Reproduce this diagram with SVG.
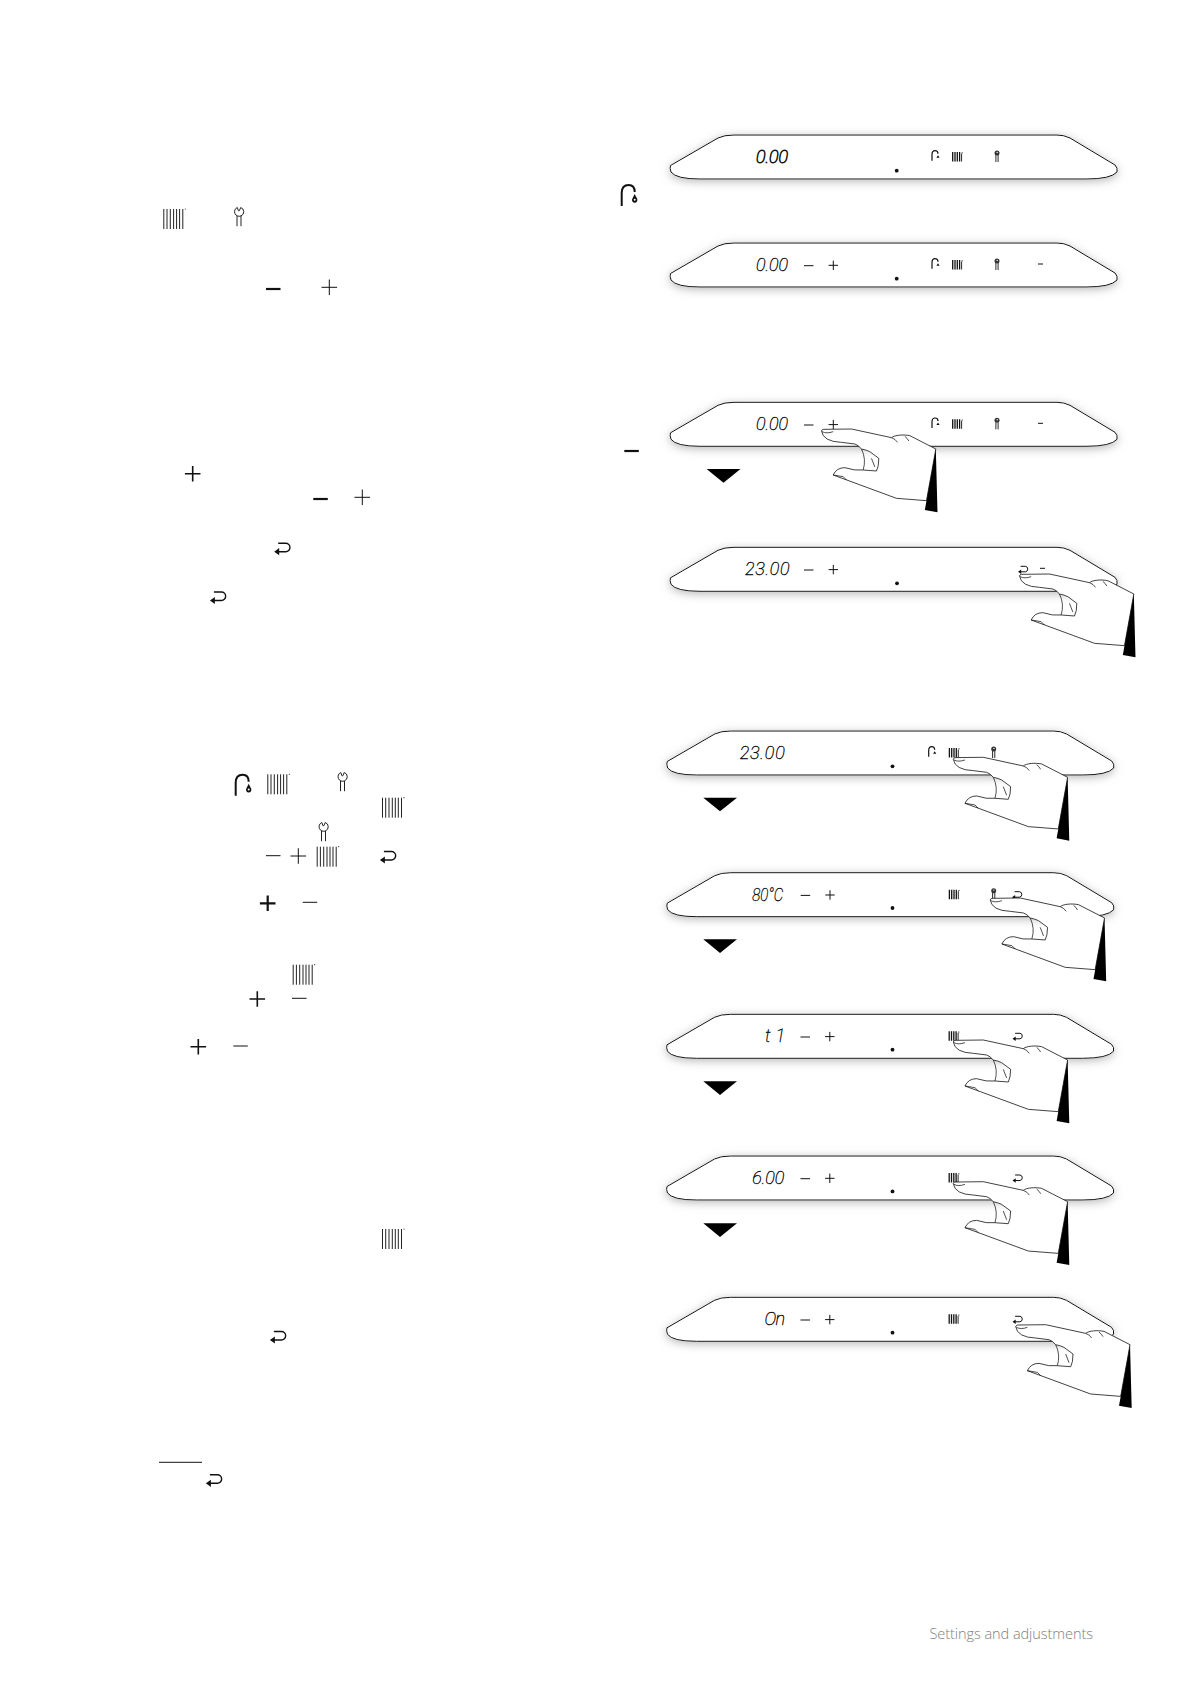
<svg xmlns="http://www.w3.org/2000/svg" width="1191" height="1684" viewBox="0 0 1191 1684">
<style>
.ln{fill:none;stroke:#111;stroke-linecap:butt}
.t1{stroke-width:1}
.t15{stroke-width:1.6}
.t2{stroke-width:2.2}
.seg{font-family:"Roboto","Liberation Sans",sans-serif;font-weight:100;font-style:italic;font-size:18px;fill:#111;stroke:#111;stroke-width:.4}
.foot{font-family:"Open Sans","Liberation Sans",sans-serif;font-weight:300;font-size:14.5px;fill:#808080}
.tri{fill:#000}
</style>
<defs>
<filter id="sh" x="-6%" y="-60%" width="112%" height="220%"><feDropShadow dx="0" dy="2" stdDeviation="5" flood-color="#999" flood-opacity=".7"/></filter>
<path id="body" d="M0.5,30.5 L48,3 Q54,0 64,0 L387,0 Q394,0 400,3 L445,30 Q448,33 447,37 Q441,44 416,44 L30,44 Q6,44 1,37 Q-.5,33 .5,30.5 Z" fill="#fff" stroke="#111" stroke-width="1"/>
<g id="rad"><path d="M.5,0V20M3.7,0V20M7,0V20M10.3,0V20M13.3,0V20M16.3,0V20M19.5,0V20" fill="none" stroke="#222" stroke-width="1"/><circle cx="22" cy="0" r=".6" fill="#333"/></g>
<g id="wrench"><path d="M-1.7,-4.2 A4.5,4.5 0 1 0 2,4.2 L2,14.5 M-2,4.2 L-2,14.5 M1.7,-4.2 L.4,-1 A1.8,1.8 0 0 1 -.6,-1 L-1.7,-4.2 M1.7,-4.2 A4.5,4.5 0 0 1 2,4.2" fill="none" stroke="#222" stroke-width="1"/></g>
<g id="tap"><path d="M0,0 V-13 Q0,-21 7,-21 Q13,-21 13,-14" fill="none" stroke="#111" stroke-width="2"/><path d="M13,-12 L15.4,-7.2 A2.7,2.7 0 1 1 10.6,-7.2 Z" fill="#111"/><circle cx="13" cy="-6.2" r="1" fill="#fff"/></g>
<g id="ret"><path d="M3.2,-8.5 H10.7 A4.2,4.2 0 0 1 10.7,0 H2.2" fill="none" stroke="#111" stroke-width="1.4"/><path d="M-.8,0 L4.2,-3.6 V3.6 Z" fill="#111"/></g>
<g id="sret"><path d="M2.6,-5.5 H7.5 A2.8,2.8 0 0 1 7.5,0 H2" fill="none" stroke="#111" stroke-width="1"/><path d="M0,0 L3.2,-2.3 V2.3 Z" fill="#111"/></g>
<g id="srad"><path d="M.7,0V9.5M3,0V9.5M5.3,0V9.5M7.6,0V9.5" fill="none" stroke="#111" stroke-width="1.3"/><path d="M9.6,1.5V9.5" fill="none" stroke="#111" stroke-width=".9"/><path d="M9.6,.8H11" fill="none" stroke="#111" stroke-width=".7"/></g>
<g id="swr"><path d="M-1.1,2 V9 M1.1,2 V9" fill="none" stroke="#111" stroke-width=".9"/><circle cx="0" cy="0" r="2.5" fill="#333"/><circle cx=".2" cy="-.6" r=".7" fill="#fff"/></g>
<g id="stap"><path d="M0,0 V-6 Q0,-10 3,-10 Q6,-10 6,-7" fill="none" stroke="#111" stroke-width="1.2"/><path d="M6,-5.5 L7.6,-3 L4.4,-3 Z" fill="#111"/></g>
<path id="sminus" d="M0,0H9.5" class="ln t1"/>
<path id="splus" d="M-4.7,0H4.7M0,-4.7V4.7" class="ln t1"/>
<path id="minusT" d="M0,0H14.5" class="ln t1"/>
<path id="minusB" d="M0,0H14.5" class="ln t2"/>
<path id="plusT" d="M-7.8,0H7.8M0,-7.8V7.8" class="ln t1"/>
<path id="plusM" d="M-7.8,0H7.8M0,-7.8V7.8" class="ln t15"/>
<path id="plusB" d="M-7.8,0H7.8M0,-7.8V7.8" class="ln t2"/>
<circle id="dot" r="1.9" fill="#111"/>
<g id="hand" transform="scale(.3333)">
<path d="M5,-5 L90,-6 L210,20 C220,12 245,10 265,14 L343,54 L315,209 L225,202 L35,132 Q45,110 70,110 Q100,120 125,117 L165,120 Q172,107 172,82 L145,62 Q135,57 120,54 Q110,42 100,39 L60,34 Q5,32 0,0 Q0,-3 5,-5 Z" fill="#fff" stroke="#111" stroke-width="2.4" stroke-linejoin="round"/>
<path d="M210,20 Q222,24 228,34 M250,16 Q258,22 262,30 M2,2 Q15,9 35,2 M120,54 Q135,85 125,117 M150,82 L160,108 M35,132 L65,137 L75,147" fill="none" stroke="#111" stroke-width="2.2"/>
<path d="M343,54 L310,237 L348,244 Z" fill="#000"/>
</g>
</defs>
<rect width="1191" height="1684" fill="#fff"/>

<g id="text-icons">
<use href="#rad" x="163.3" y="209"/>
<use href="#wrench" x="239" y="211.7"/>
<use href="#minusB" x="266" y="289"/>
<use href="#plusT" x="329.3" y="287.3"/>
<use href="#tap" x="621.7" y="206"/>
<use href="#minusB" x="624.3" y="451"/>
<use href="#plusM" x="192.7" y="473.7"/>
<use href="#minusB" x="313.3" y="499"/>
<use href="#plusT" x="362.3" y="497.3"/>
<use href="#ret" x="275" y="551.7"/>
<use href="#ret" x="210.7" y="600.5"/>
<use href="#tap" x="235.7" y="795.7"/>
<use href="#rad" x="267.3" y="774.3"/>
<use href="#wrench" x="342.5" y="776.7"/>
<use href="#rad" x="382" y="797.7"/>
<use href="#wrench" x="323.5" y="826.7"/>
<use href="#minusT" x="266" y="855.7"/>
<use href="#plusT" x="298.3" y="856"/>
<use href="#rad" x="316.7" y="846.7"/>
<use href="#ret" x="380.7" y="860"/>
<use href="#plusB" x="267.7" y="903.3"/>
<use href="#minusT" x="302.7" y="902.3"/>
<use href="#rad" x="292.7" y="964.7"/>
<use href="#plusM" x="257.3" y="999"/>
<use href="#minusT" x="292" y="998.3"/>
<use href="#plusM" x="198.3" y="1046.7"/>
<use href="#minusT" x="233.3" y="1046"/>
<use href="#rad" x="382" y="1229"/>
<use href="#ret" x="270.7" y="1340"/>
<path d="M159,1462.3H202" class="ln t1"/>
<use href="#ret" x="206.7" y="1483.3"/>
</g>

<g id="panel-1" transform="translate(670,135)">
<use href="#body" filter="url(#sh)"/>
<text class="seg" x="86" y="27.7" textLength="32" style="stroke-width:.8">0.00</text>
<use href="#dot" x="226.7" y="35.7"/>
<use href="#stap" x="262" y="25.7"/><use href="#srad" x="282" y="17"/><use href="#swr" x="327" y="18"/>
</g>
<g id="panel-2" transform="translate(670,243)">
<use href="#body" filter="url(#sh)"/>
<text class="seg" x="86" y="27.7" textLength="32">0.00</text>
<use href="#dot" x="226.7" y="35.7"/>
<use href="#sminus" x="134" y="22.7"/><use href="#splus" x="163.3" y="22.3"/>
<use href="#stap" x="262" y="25.7"/><use href="#srad" x="282" y="17"/><use href="#swr" x="327" y="18"/>
<path d="M368,21H373" class="ln t1"/>
</g>
<g id="panel-3" transform="translate(670,402.3)">
<use href="#body" filter="url(#sh)"/>
<text class="seg" x="86" y="27.7" textLength="32">0.00</text>
<use href="#sminus" x="134" y="22.7"/><use href="#splus" x="163.3" y="22.3"/>
<use href="#stap" x="262" y="25.7"/><use href="#srad" x="282" y="17"/><use href="#swr" x="327" y="18"/>
<path d="M368,21H373" class="ln t1"/>
<use href="#hand" x="151.5" y="28.7"/>
</g>
<g id="panel-4" transform="translate(670,547.3)">
<use href="#body" filter="url(#sh)"/>
<text class="seg" x="75" y="27.7" textLength="44.6">23.00</text>
<use href="#dot" x="227" y="36"/>
<use href="#sminus" x="134" y="22.7"/><use href="#splus" x="163.3" y="22.3"/>
<use href="#sret" x="348" y="24.5"/>
<path d="M370,21H375" class="ln t1"/>
<use href="#hand" x="349.5" y="28.7"/>
</g>
<g id="panel-5" transform="translate(666.7,731)">
<use href="#body" filter="url(#sh)"/>
<text class="seg" x="73" y="27.7" textLength="45">23.00</text>
<use href="#dot" x="225.8" y="35.3"/>
<use href="#stap" x="262" y="25.7"/><use href="#srad" x="282" y="17"/><use href="#swr" x="327" y="18"/>
<use href="#hand" x="286.6" y="28.3"/>
</g>
<g id="panel-6" transform="translate(666.7,872.7)">
<use href="#body" filter="url(#sh)"/>
<text class="seg" x="85.6" y="28" textLength="31" lengthAdjust="spacingAndGlyphs">80°C</text>
<use href="#dot" x="225.8" y="35.3"/>
<use href="#sminus" x="134" y="22.7"/><use href="#splus" x="163.3" y="22.3"/>
<use href="#srad" x="282" y="17"/><use href="#swr" x="327" y="18"/>
<use href="#sret" x="345.3" y="24.5"/>
<use href="#hand" x="323.5" y="27.3"/>
</g>
<g id="panel-7" transform="translate(666.5,1014.3)">
<use href="#body" filter="url(#sh)"/>
<text class="seg" x="98.5" y="27.4" textLength="20">t 1</text>
<use href="#dot" x="226" y="35.4"/>
<use href="#sminus" x="134" y="22.7"/><use href="#splus" x="163.3" y="22.3"/>
<use href="#srad" x="282" y="17"/>
<use href="#sret" x="346" y="24.5"/>
<use href="#hand" x="286.8" y="27.7"/>
</g>
<g id="panel-8" transform="translate(666.5,1156)">
<use href="#body" filter="url(#sh)"/>
<text class="seg" x="85.8" y="27.7" textLength="32">6.00</text>
<use href="#dot" x="226" y="35.4"/>
<use href="#sminus" x="134" y="22.7"/><use href="#splus" x="163.3" y="22.3"/>
<use href="#srad" x="282" y="17"/>
<use href="#sret" x="346" y="24.5"/>
<use href="#hand" x="286.8" y="27.7"/>
</g>
<g id="panel-9" transform="translate(666.5,1297.3)">
<use href="#body" filter="url(#sh)"/>
<text class="seg" x="98" y="27.7" textLength="20.5">On</text>
<use href="#dot" x="226" y="35.4"/>
<use href="#sminus" x="134" y="22.7"/><use href="#splus" x="163.3" y="22.3"/>
<use href="#srad" x="282" y="17"/>
<use href="#sret" x="346" y="24.5"/>
<use href="#hand" x="349.2" y="29.4"/>
</g>

<g id="connectors">
<path class="tri" d="M706.6,469H740.5L723.5,482.7Z"/>
<path class="tri" d="M703.3,797.7H737L720,811.3Z"/>
<path class="tri" d="M703.3,939.3H737L720,953Z"/>
<path class="tri" d="M703.3,1081.3H737L720,1095Z"/>
<path class="tri" d="M703.3,1223.3H737L720,1237Z"/>
</g>
<text class="foot" x="929.5" y="1639" textLength="163.5">Settings and adjustments</text>
</svg>
